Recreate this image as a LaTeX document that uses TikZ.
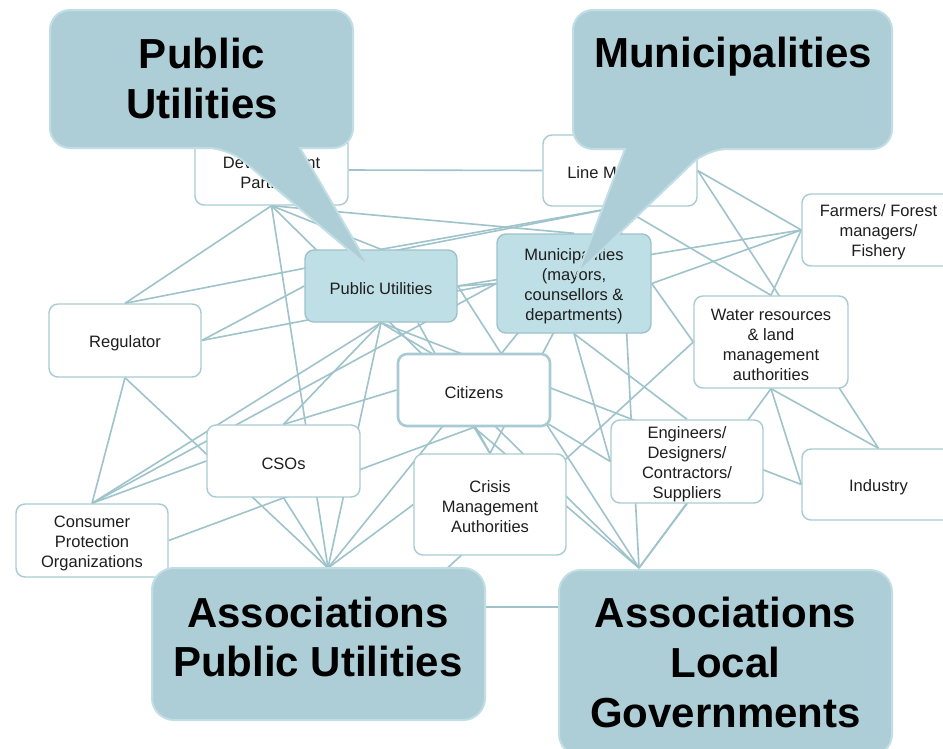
\documentclass[tikz,border=0pt]{standalone}
\usepackage{fontspec}
\setmainfont{Liberation Sans}
\pgfdeclarelayer{edges}
\pgfsetlayers{edges,main}
\definecolor{edgec}{RGB}{158,195,203}
\definecolor{boxc}{RGB}{168,203,211}
\definecolor{fillc}{RGB}{190,223,230}
\definecolor{fbord}{RGB}{158,194,202}
\definecolor{bigc}{RGB}{173,206,214}
\definecolor{bigb}{RGB}{192,222,228}
\definecolor{txt}{RGB}{30,30,30}
\newcommand\mkbox[7]{%
  \node[#1, minimum width=#5pt, minimum height=#6pt] (#2) at (#3,#4) {};
  \node[boxtxt] (#2-t) at ([yshift=-2.5pt]#2.center) {#7};}
\begin{document}
\begin{tikzpicture}[x=1pt,y=-1pt,
  link/.style={draw=edgec, line width=1.6pt},
  wbox/.style={draw=boxc, line width=1.4pt, fill=white, rounded corners=9pt, inner sep=0pt},
  fbox/.style={wbox, fill=fillc, draw=fbord},
  boxtxt/.style={align=center, text=txt, inner sep=0pt, font=\fontsize{16.5}{20}\selectfont},
  bigbox/.style={fill=bigc, draw=bigb, line width=2pt, rounded corners=22pt},
  callout/.style={fill=bigc, draw=bigb, line width=2pt},
  bigtxt/.style={anchor=base, inner sep=0pt, font=\bfseries\fontsize{42}{50}\selectfont, text=black}]
\useasboundingbox (0,0) rectangle (943,748);
\begin{pgfonlayer}{edges}
\fill[white] (0,0) rectangle (943,748);
\end{pgfonlayer}
\clip (0,0) rectangle (943,748);

% small nodes
\mkbox{wbox}{DP}{271.5}{170}{153}{70}{Development\\Partners}
\mkbox{wbox}{LM}{620}{170.5}{154}{71}{Line Ministries}
\mkbox{wbox}{FA}{878.5}{230}{153}{72}{Farmers/ Forest\\managers/\\Fishery}
\mkbox{fbox}{PU}{381}{286}{152}{72}{Public Utilities}
\mkbox{fbox}{MU}{574}{283.5}{154}{99}{Municipalities\\(mayors,\\counsellors \&\\departments)}
\mkbox{wbox}{RE}{125}{340.5}{152}{73}{Regulator}
\mkbox{wbox}{WA}{771}{342}{154}{92}{Water resources\\\& land\\management\\authorities}
\mkbox{wbox,line width=2.6pt}{CI}{474}{390}{152}{72}{Citizens}
\mkbox{wbox}{CS}{283.5}{461}{153}{72}{CSOs}
\mkbox{wbox}{CP}{92}{540.5}{152}{73}{Consumer\\Protection\\Organizations}
\mkbox{wbox}{CR}{490}{504.5}{152}{101}{Crisis\\Management\\Authorities}
\mkbox{wbox}{EN}{687}{461.5}{152}{83}{Engineers/\\Designers/\\Contractors/\\Suppliers}
\mkbox{wbox}{IN}{878.5}{484.5}{153}{71}{Industry}

% hidden end points under the large boxes
\coordinate (apuT) at (328,568);
\coordinate (apuR) at (405,607);
\coordinate (algT) at (639,568);
\coordinate (algL) at (563,607);

\begin{pgfonlayer}{edges}
\draw[link] (DP.east) -- (LM.west);
\draw[link] (DP.south) -- (RE.north);
\draw[link] (DP.south) -- (apuT);
\draw[link] (DP.south) -- (MU.north);
\draw[link] (DP.south) -- (PU.north);
\draw[link] (DP.south) -- (algT);
\draw[link] (RE.north) -- (LM.south);
\draw[link] (RE.east) -- (PU.west);
\draw[link] (RE.east) -- (MU.west);
\draw[link] (RE.south) -- (CP.north);
\draw[link] (RE.south) -- (apuT);
\draw[link] (CP.north) -- (CS.west);
\draw[link] (CP.north) -- (PU.south);
\draw[link] (CP.north) -- (MU.west);
\draw[link] (CP.east) -- (CI.south);
\draw[link] (CS.north) -- (PU.south);
\draw[link] (CS.north) -- (CI.west);
\draw[link] (CS.south) -- (apuT);
\draw[link] (PU.south) -- (apuT);
\draw[link] (PU.south) -- (EN.west);
\draw[link] (PU.south) -- (IN.west);
\draw[link] ([xshift=37pt]PU.south) -- (CR.north);
\draw[link] (PU.north) -- (LM.south);
\draw[link] (PU.east) -- (MU.west);
\draw[link] (PU.east) -- (FA.west);
\draw[link] (PU.east) -- (algT);
\draw[link] (LM.south) -- (apuT);
\draw[link] (LM.south) -- (CR.north);
\draw[link] (LM.south) -- (WA.north);
\draw[link] (LM.south) -- (algT);
\draw[link] (LM.east) -- (FA.west);
\draw[link] (LM.east) -- (IN.north);
\draw[link] (MU.east) -- (FA.west);
\draw[link] (MU.east) -- (WA.west);
\draw[link] (MU.south) -- (EN.west);
\draw[link] (MU.south) -- (EN.north);
\draw[link] (FA.west) -- (WA.north);
\draw[link] (WA.west) -- (apuR);
\draw[link] (WA.south) -- (algT);
\draw[link] (WA.south) -- (IN.west);
\draw[link] (WA.south) -- (IN.north);
\draw[link] (CI.south) -- (CR.north);
\draw[link] (CI.south) -- (algT);
\draw[link] (CR.west) -- (apuT);
\draw[link] (EN.south) -- (algT);
\draw[link] (apuR) -- (algL);
\end{pgfonlayer}

% large boxes
\path[bigbox] (152,568) rectangle (485,720);
\node[bigtxt] (apu1) at (318,627) {Associations};
\node[bigtxt] (apu2) at (318,676) {Public Utilities};
\path[bigbox] (559,570) rectangle (892,756);
\node[bigtxt] (alg1) at (725.5,627) {Associations};
\node[bigtxt] (alg2) at (725.5,677) {Local};
\node[bigtxt] (alg3) at (725.5,727) {Governments};

% callouts
\path[callout] (330,148) [rounded corners=20pt] -- (353,148) -- (353,10) -- (50,10) -- (50,148) -- (228,148) [sharp corners] -- (370,268) -- (300,148) -- cycle;
\node[bigtxt] (co1a) at (202,68) {Public};
\node[bigtxt] (co1b) at (202,118) {Utilities};
\path[callout] (600,149) [rounded corners=20pt] -- (573,149) -- (573,10) -- (892,10) -- (892,149) -- (707,149) [sharp corners] -- (578,273) -- (625,149) -- cycle;
\node[bigtxt] (co2) at (733,67) {Municipalities};
\end{tikzpicture}
\end{document}
